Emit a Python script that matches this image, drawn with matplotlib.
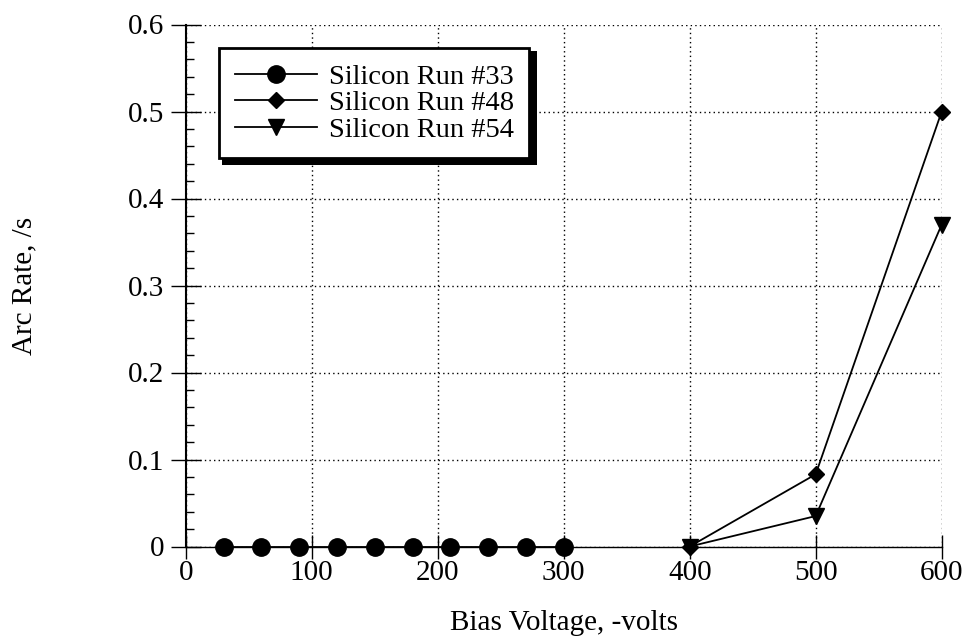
import matplotlib
matplotlib.use('Agg')
import matplotlib.pyplot as plt
from matplotlib.patches import Rectangle

# Arc rate vs. bias voltage for three silicon runs
run33_volts = [30, 60, 90, 120, 150, 180, 210, 240, 270, 300]
run33_rate = [0, 0, 0, 0, 0, 0, 0, 0, 0, 0]

run48_volts = [400, 500, 600]
run48_rate = [0, 0.083, 0.5]

run54_volts = [400, 500, 600]
run54_rate = [0, 0.035, 0.37]

labels = ['Silicon Run #33', 'Silicon Run #48', 'Silicon Run #54']

x_ticks = [0, 100, 200, 300, 400, 500, 600]
y_ticks = [0, 0.1, 0.2, 0.3, 0.4, 0.5, 0.6]
y_tick_labels = ['0', '0.1', '0.2', '0.3', '0.4', '0.5', '0.6']

plt.rcParams['font.family'] = ['Liberation Serif', 'DejaVu Serif']
fs = 21

fig = plt.figure(figsize=(9.63, 6.39), dpi=100)
ax = fig.add_axes([185.7 / 963, 1 - 546.5 / 639, 756 / 963, 522 / 639])

ax.plot(run33_volts, run33_rate, color='k', lw=1.3, marker='o', ms=12.5,
        clip_on=False, zorder=3, label=labels[0])
ax.plot(run48_volts, run48_rate, color='k', lw=1.3, marker='D', ms=8.5,
        clip_on=False, zorder=3, label=labels[1])
ax.plot(run54_volts, run54_rate, color='k', lw=1.3, marker='v', ms=11.5,
        clip_on=False, zorder=3, label=labels[2])

ax.set_xlim(0, 600)
ax.set_ylim(0, 0.6)
ax.set_xticks(x_ticks)
ax.set_xticklabels([str(v) for v in x_ticks], fontsize=fs)
ax.set_yticks(y_ticks)
ax.set_yticklabels(y_tick_labels, fontsize=fs)
ax.set_yticks([v / 50 for v in range(31)], minor=True)

ax.tick_params(axis='x', which='major', direction='inout', length=17, width=1, pad=1)
ax.tick_params(axis='y', which='major', direction='inout', length=21, width=1, pad=5)
ax.tick_params(axis='y', which='minor', direction='in', length=6, width=1)

ax.grid(True, which='major', color='k', lw=1, linestyle=(0, (1, 2.3)))
ax.set_axisbelow(True)

for side in ['top', 'right']:
    ax.spines[side].set_visible(False)
ax.spines['left'].set_linewidth(1.5)
ax.spines['bottom'].set_linewidth(1.0)

ax.set_xlabel('Bias Voltage, -volts', fontsize=fs)
ax.xaxis.set_label_coords(0.5, -0.122)
ax.set_ylabel('Arc Rate, /s', fontsize=fs)
ax.yaxis.set_label_coords(-0.196, 0.5)

leg = ax.legend(loc='upper left', bbox_to_anchor=(0.044, 0.955), borderaxespad=0,
                fontsize=20.5, fancybox=False, edgecolor='k', framealpha=1,
                handlelength=2.9, handletextpad=0.4, labelspacing=0.02,
                borderpad=0.55)
leg.get_frame().set_linewidth(2)
leg.set_zorder(5)

# heavy drop shadow under the legend box
fig.canvas.draw()
bb = leg.get_frame().get_window_extent()
W, H = fig.bbox.width, fig.bbox.height
shadow = Rectangle(((bb.x0 + 3) / W, (bb.y0 - 7) / H), (bb.width + 5) / W, (bb.height + 4) / H,
                   transform=fig.transFigure, facecolor='k', edgecolor='none', zorder=4.9)
ax.add_patch(shadow)

fig.savefig('out.png', dpi=100)
